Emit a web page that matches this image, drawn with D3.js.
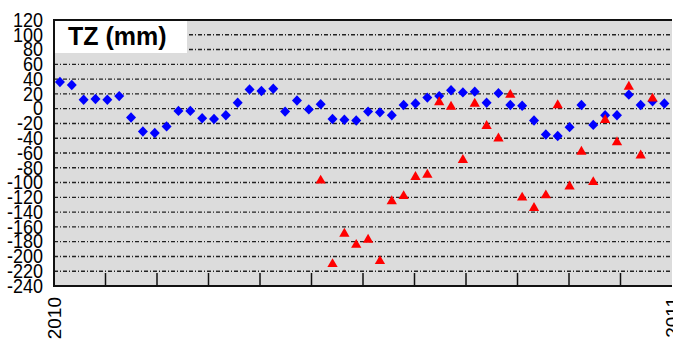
<!DOCTYPE html>
<html>
<head>
<meta charset="utf-8">
<script src="https://cdn.jsdelivr.net/npm/d3@7"></script>
<style>
  body { margin: 0; background: #fff; }
  svg { display: block; font-family: "Liberation Sans", Arial, sans-serif; }
</style>
</head>
<body>
<div id="chart"></div>
<script>
// weekly samples through 2010
const dates = [
  "2010-01-04", "2010-01-11", "2010-01-18", "2010-01-25", "2010-02-01", "2010-02-08",
  "2010-02-15", "2010-02-22", "2010-03-01", "2010-03-08", "2010-03-15", "2010-03-22",
  "2010-03-29", "2010-04-05", "2010-04-12", "2010-04-19", "2010-04-26", "2010-05-03",
  "2010-05-10", "2010-05-17", "2010-05-24", "2010-05-31", "2010-06-07", "2010-06-14",
  "2010-06-21", "2010-06-28", "2010-07-05", "2010-07-12", "2010-07-19", "2010-07-26",
  "2010-08-02", "2010-08-09", "2010-08-16", "2010-08-23", "2010-08-30", "2010-09-06",
  "2010-09-13", "2010-09-20", "2010-09-27", "2010-10-04", "2010-10-11", "2010-10-18",
  "2010-10-25", "2010-11-01", "2010-11-08", "2010-11-15", "2010-11-22", "2010-11-29",
  "2010-12-06", "2010-12-13", "2010-12-20", "2010-12-27"
];

const blueTZ = [
  36, 32, 12, 13, 12, 17, -12, -31, -33, -24, -3, -3,
  -13, -14, -9, 8, 26, 24, 27, -4, 11, -1, 6, -14,
  -15, -16, -4, -5, -9, 5, 7, 15, 17, 25, 22, 23,
  8, 21, 5, 4, -16, -35, -37, -25, 5, -22, -9, -9,
  19, 5, 10, 7
];

const redTZ = [
  null, null, null, null, null, null, null, null, null, null, null, null,
  null, null, null, null, null, null, null, null, null, null, -96, -209,
  -168, -183, -176, -205, -124, -117, -91, -88, 10, 4, -68, 8,
  -22, -39, 20, -119, -133, -116, 6, -104, -57, -98, -14, -44,
  31, -62, 15, null
];

const yTicks = d3.range(-240, 121, 20);
const yearLabels = ["2010", "2011"];
const title = "TZ (mm)";

const W = 673, H = 342;
const margin = { top: 20, right: 1, bottom: 56, left: 54 };

const svg = d3.select("#chart").append("svg")
  .attr("width", W)
  .attr("height", H);

const parse = d3.timeParse("%Y-%m-%d");
// decimal year, month ticks are drawn evenly in the original
const toYear = s => {
  const d = parse(s);
  return d.getFullYear() + (d3.timeDay.count(d3.timeYear(d), d) + 0.5) / 365;
};

const x = d3.scaleLinear()
  .domain([2010, 2011])
  .range([margin.left, W - margin.right]);

const y = d3.scaleLinear()
  .domain([-240, 120])
  .range([H - margin.bottom, margin.top]);

// plot background
svg.append("rect")
  .attr("x", x(2010))
  .attr("y", y(120))
  .attr("width", x(2011) - x(2010))
  .attr("height", y(-240) - y(120))
  .attr("fill", "#dcdcdc");

// dash-dot grid
svg.append("g")
  .selectAll("line")
  .data(yTicks.filter(v => v > -240 && v < 120))
  .enter()
  .append("line")
  .attr("x1", x(2010))
  .attr("x2", x(2011))
  .attr("y1", d => y(d))
  .attr("y2", d => y(d))
  .attr("stroke", "#222")
  .attr("stroke-width", 1.4)
  .attr("stroke-dasharray", "4,2,1,2");

// month ticks
svg.append("g")
  .selectAll("line")
  .data(d3.range(1, 12).map(m => 2010 + m / 12))
  .enter()
  .append("line")
  .attr("x1", d => x(d))
  .attr("x2", d => x(d))
  .attr("y1", y(-240))
  .attr("y2", y(-240) - 13)
  .attr("stroke", "#111")
  .attr("stroke-width", 1.5);

// frame
svg.append("path")
  .attr("d", `M${x(2011)},${y(120)}H${x(2010)}V${y(-240)}H${x(2011)}`)
  .attr("fill", "none")
  .attr("stroke", "#111")
  .attr("stroke-width", 2);

// title box
svg.append("rect")
  .attr("x", x(2010) + 1)
  .attr("y", y(120) + 1)
  .attr("width", 132)
  .attr("height", 32)
  .attr("fill", "#fff");

svg.append("text")
  .attr("x", 68)
  .attr("y", 45)
  .attr("font-size", 25)
  .attr("font-weight", "bold")
  .text(title);

// y labels, slightly tall glyphs like the original
svg.append("g")
  .selectAll("text")
  .data(yTicks)
  .enter()
  .append("text")
  .attr("transform", d => `translate(43,${y(d) - 0.5}) scale(1,1.15)`)
  .attr("dy", "0.35em")
  .attr("text-anchor", "end")
  .attr("font-size", 18)
  .text(d => d);

// year labels, vertical
svg.append("g")
  .selectAll("text")
  .data(yearLabels)
  .enter()
  .append("text")
  .attr("transform", d => `translate(${x(+d)},${y(-240) + 11}) rotate(-90)`)
  .attr("dy", "0.35em")
  .attr("text-anchor", "end")
  .attr("font-size", 19)
  .text(d => d);

const pts = dates.map((d, i) => ({ t: toYear(d), b: blueTZ[i], r: redTZ[i] }));

// blue diamonds
svg.append("g")
  .selectAll("path")
  .data(pts.filter(d => d.b != null))
  .enter()
  .append("path")
  .attr("transform", d => `translate(${x(d.t)},${y(d.b)})`)
  .attr("d", "M0,-5.2L5,0L0,5.2L-5,0Z")
  .attr("fill", "#0000ff");

// red triangles
svg.append("g")
  .selectAll("path")
  .data(pts.filter(d => d.r != null))
  .enter()
  .append("path")
  .attr("transform", d => `translate(${x(d.t)},${y(d.r) + 1})`)
  .attr("d", d3.symbol().type(d3.symbolTriangle).size(46))
  .attr("fill", "#ff0000");
</script>
</body>
</html>
